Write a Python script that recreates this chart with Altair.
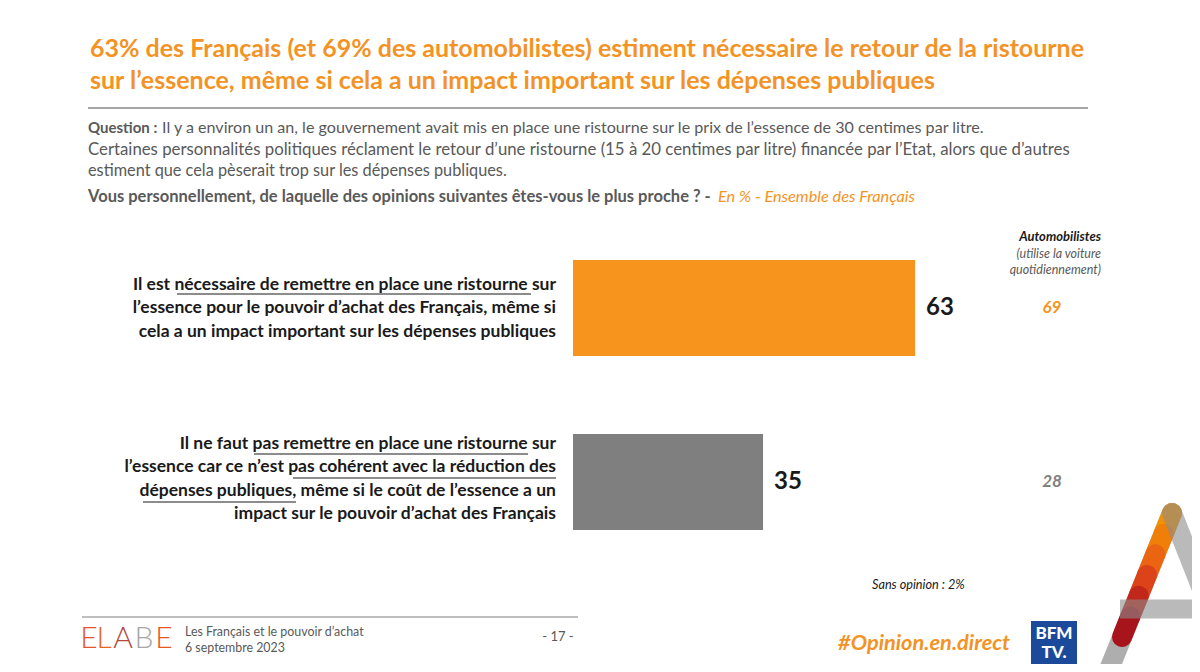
import altair as alt
import pandas as pd

# ---------------- data ----------------
LABELS = [
    "Il est nécessaire de remettre en place une ristourne sur\nl’essence pour le pouvoir d’achat des Français, même si\ncela a un impact important sur les dépenses publiques",
    "Il ne faut pas remettre en place une ristourne sur\nl’essence car ce n’est pas cohérent avec la réduction des\ndépenses publiques, même si le coût de l’essence a un\nimpact sur le pouvoir d’achat des Français",
]
ENSEMBLE = [63, 35]
AUTOMOBILISTES = [69, 28]
SANS_OPINION = 2

TITLE_LINES = [
    "63% des Français (et 69% des automobilistes) estiment nécessaire le retour de la ristourne",
    "sur l’essence, même si cela a un impact important sur les dépenses publiques",
]
Q_BOLD = "Question :"
Q_LINE1 = "Il y a environ un an, le gouvernement avait mis en place une ristourne sur le prix de l’essence de 30 centimes par litre."
Q_LINE2 = "Certaines personnalités politiques réclament le retour d’une ristourne (15 à 20 centimes par litre) financée par l’Etat, alors que d’autres"
Q_LINE3 = "estiment que cela pèserait trop sur les dépenses publiques."
Q_LINE4 = "Vous personnellement, de laquelle des opinions suivantes êtes-vous le plus proche ? -"
Q_LINE4_NOTE = "En % - Ensemble des Français"
AUTO_HEADER = ["Automobilistes", "(utilise la voiture", "quotidiennement)"]
FOOTER_LINES = ["Les Français et le pouvoir d’achat", "6 septembre 2023"]
PAGE = "- 17 -"
HASHTAG = "#Opinion.en.direct"
LOGO_LETTERS = ["E", "L", "A", "B", "E"]

df = pd.DataFrame({"label": LABELS, "value": ENSEMBLE, "auto": AUTOMOBILISTES})

# ---------------- style ----------------
FONT = "Lato"
ORANGE = "#F7941D"
TITLE_ORANGE = "#F39325"
GRAY_BAR = "#7F7F7F"
TXT_GRAY = "#595959"
BLACK = "#1A1A1A"

OX, OY = 573, 221          # page position of plot origin
W, H = 543, 348
PAGE_W, PAGE_H = 1184, 656
LH = 23.5

ONE = pd.DataFrame({"k": [0]})


def text(s, X, Y, size, color=TXT_GRAY, weight="normal", style="normal", align="left", font=FONT):
    return alt.Chart(ONE).mark_text(
        text=s, align=align, baseline="middle", fontSize=size, color=color,
        fontWeight=weight, fontStyle=style, font=font,
    ).encode(x=alt.value(X - OX), y=alt.value(Y - OY))


def rule(X1, Y1, X2, Y2, color, width, cap="butt", opacity=1.0):
    return alt.Chart(ONE).mark_rule(
        color=color, strokeWidth=width, strokeCap=cap, opacity=opacity
    ).encode(
        x=alt.value(X1 - OX), y=alt.value(Y1 - OY),
        x2=alt.value(X2 - OX), y2=alt.value(Y2 - OY),
    )


def rect(X1, Y1, X2, Y2, color):
    return alt.Chart(ONE).mark_rect(color=color).encode(
        x=alt.value(X1 - OX), y=alt.value(Y1 - OY),
        x2=alt.value(X2 - OX), y2=alt.value(Y2 - OY),
    )


y_enc = alt.Y("label:N", sort=LABELS, axis=None,
              scale=alt.Scale(paddingInner=0.448, paddingOuter=0.224))
color_scale = alt.Scale(domain=LABELS, range=[ORANGE, GRAY_BAR])

base = alt.Chart(df)
bars = base.mark_bar().encode(
    x=alt.X("value:Q", scale=alt.Scale(domain=[0, 100], nice=False, zero=True), axis=None),
    y=y_enc,
    color=alt.Color("label:N", scale=color_scale, legend=None),
)
values = base.mark_text(align="left", baseline="middle", dx=11, fontSize=24,
                        fontWeight="bold", font=FONT, color=BLACK).encode(
    x="value:Q", y=y_enc, text="value:Q")

label_layers = []
for i, lab in enumerate(LABELS):
    nlines = lab.count("\n") + 1
    extra = 0 if i == 0 else -3
    label_layers.append(
        base.transform_filter(alt.FieldEqualPredicate(field="label", equal=lab))
        .mark_text(align="right", baseline="middle", lineBreak="\n", lineHeight=LH,
                   dy=-(nlines - 1) / 2 * LH + extra,
                   fontSize=17.5, fontWeight="bold", font=FONT, color=BLACK)
        .encode(x=alt.value(556 - OX), y=y_enc, text="label:N")
    )

auto_vals = alt.Chart(df).mark_text(align="center", baseline="middle", fontSize=17,
                                    fontWeight="bold", fontStyle="italic", font=FONT).encode(
    x=alt.value(1052 - OX), y=y_enc, text="auto:Q",
    color=alt.Color("label:N", scale=alt.Scale(domain=LABELS, range=["#F7A035", "#808080"]), legend=None))

layers = []
# title & header
layers.append(text(TITLE_LINES[0], 90, 49, 25, TITLE_ORANGE, "bold"))
layers.append(text(TITLE_LINES[1], 90, 81, 25, TITLE_ORANGE, "bold"))
layers.append(rule(88, 108, 1088, 108, "#A6A6A6", 2))
layers.append(text(Q_BOLD, 88, 128, 15, TXT_GRAY, "bold"))
layers.append(text(Q_LINE1, 162, 128, 16.1, TXT_GRAY))
layers.append(text(Q_LINE2, 88, 150, 16.8, TXT_GRAY))
layers.append(text(Q_LINE3, 88, 171, 16.3, TXT_GRAY))
layers.append(text(Q_LINE4, 88, 197, 16.5, TXT_GRAY, "bold"))
layers.append(text(Q_LINE4_NOTE, 718, 197, 16.3, TITLE_ORANGE, "normal", "italic"))
# right column header
layers.append(text(AUTO_HEADER[0], 1101, 237, 13, BLACK, "bold", "italic", "right"))
layers.append(text(AUTO_HEADER[1], 1101, 254, 12.5, TXT_GRAY, "normal", "italic", "right"))
layers.append(text(AUTO_HEADER[2], 1101, 270, 12.5, TXT_GRAY, "normal", "italic", "right"))

# data layers
layers += [bars] + label_layers + [values, auto_vals]

# underlines
layers.append(rule(177, 294, 531, 294, BLACK, 1.2))
layers.append(rule(254, 454, 528, 454, BLACK, 1.2))
layers.append(rule(293, 478, 556, 478, BLACK, 1.2))
layers.append(rule(143, 502, 296, 502, BLACK, 1.2))

# sans opinion
layers.append(text(f"Sans opinion : {SANS_OPINION}%", 872, 585, 12.7, BLACK, "normal", "italic"))

# footer
layers.append(rule(82, 617, 578, 617, "#7F7F7F", 1))
letter_x = [89, 104, 123, 144, 164]
letter_c = ["#E4522A", "#E9661E", "#B2473A", "#A6A6A6", "#E8541E"]
for ch, lx, lc in zip(LOGO_LETTERS, letter_x, letter_c):
    layers.append(text(ch, lx, 639, 30, lc, 300, "normal", "center"))
layers.append(text(FOOTER_LINES[0], 185, 632, 12.4, TXT_GRAY))
layers.append(text(FOOTER_LINES[1], 185, 648, 12.4, TXT_GRAY))
layers.append(text(PAGE, 558, 637, 13, TXT_GRAY, "normal", "normal", "center"))
layers.append(text(HASHTAG, 838, 643, 21.8, "#F39325", "bold", "italic"))
# BFM TV logo
layers.append(rect(1031, 621, 1077, 665, "#1B4A9B"))
layers.append(text("BFM", 1054, 634, 17, "white", 900, "normal", "center"))
layers.append(text("TV.", 1054, 653, 17, "white", 900, "normal", "center"))

# big "A" logo
layers.append(rule(1172, 513, 1098, 697, "#8C8C8C", 20, "round", 0.7))
grad = ["#F39200", "#EF7F08", "#EA6412", "#DC4318", "#C2271C", "#A8141C"]
n = len(grad)
for i, c in enumerate(grad):
    x1 = 1172 + (1122 - 1172) * i / n
    y1 = 513 + (637 - 513) * i / n
    x2 = 1172 + (1122 - 1172) * (i + 1) / n
    y2 = 513 + (637 - 513) * (i + 1) / n
    layers.append(rule(x1, y1, x2, y2, c, 20, "round"))
layers.append(rule(1172, 513, 1230, 660, "#8C8C8C", 20, "round", 0.6))
layers.append(rule(1120, 609, 1215, 609, "#8C8C8C", 19, "butt", 0.6))

chart = alt.layer(*layers).properties(
    width=W, height=H,
    padding={"left": OX - 8, "top": OY - 8,
             "right": PAGE_W - (OX - 8) - W, "bottom": PAGE_H - (OY - 8) - H},
    autosize=alt.AutoSizeParams(type="none"),
    background="white",
).configure_view(stroke=None)

chart.save("out.html", embed_options={"renderer": "svg", "actions": False})
